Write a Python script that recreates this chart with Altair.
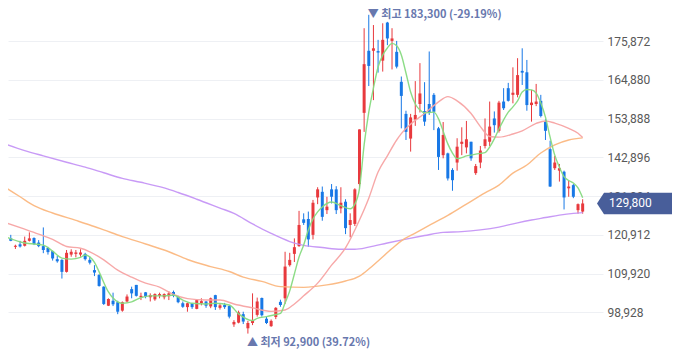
import altair as alt
import pandas as pd

# ---------------- candle data (daily OHLC, KRW) ----------------
open_ = [120100, 119900, 117500, 118200, 117800, 119200, 120000, 118700, 117700, 117200,
         116300, 114000, 113800, 110400, 115300, 115500, 115300, 115500, 113800, 110900,
         109500, 106200, 100800, 102200, 101800, 99400, 102000, 105500, 106700, 103200,
         104600, 103200, 102600, 103600, 103200, 103500, 104700, 103400, 101500, 100400,
         101500, 99900, 101500, 102000, 100600, 103800, 100200, 101000, 100700, 95500,
         96000, 98400, 94400, 95900, 98200, 103000, 97100, 95000, 97600, 101900,
         102900, 112300, 115500, 117700, 125300, 125400, 120900, 131500, 133100, 127900,
         133800, 133800, 128400, 130300, 123700, 124000, 135300, 155500, 173100, 173100,
         173000, 170300, 181100, 175900, 172800, 164300, 155200, 148200, 153600, 158000,
         156000, 158000, 160600, 151100, 143500, 144000, 139300, 141400, 146700, 145700,
         147300, 138400, 141400, 146100, 147300, 153900, 150400, 158700, 162500, 160600,
         160600, 167400, 167000, 157700, 158000, 158900, 153000, 145200, 139800, 139100,
         138800, 134100, 135000, 127900, 127500]
high = [120900, 120900, 118100, 119200, 120400, 121600, 120200, 119400, 123000, 117500,
        116400, 114900, 114000, 116600, 116800, 116600, 116800, 115800, 114700, 112300,
        109800, 106300, 102900, 104500, 102200, 102000, 104000, 106200, 106700, 104500,
        104700, 104300, 104300, 104500, 104300, 104900, 105100, 103600, 102000, 101700,
        101500, 102600, 102900, 102100, 103100, 103900, 101600, 101600, 101000, 96700,
        99400, 99100, 96500, 104300, 103100, 103100, 97600, 96900, 100400, 102500,
        116100, 115800, 119900, 127700, 127000, 127500, 130800, 134400, 134600, 131700,
        135300, 134700, 134400, 131000, 127000, 134100, 150800, 179500, 183300, 180400,
        176200, 180900, 181300, 179500, 175900, 165800, 156100, 155200, 164500, 169600,
        164200, 172900, 161100, 151500, 152900, 144200, 139800, 148300, 151400, 153200,
        147300, 141000, 146100, 153900, 158700, 155900, 158900, 162500, 164000, 168400,
        171000, 173800, 170500, 162000, 163700, 160600, 153700, 147600, 143300, 141000,
        139100, 136300, 135300, 129800, 131000]
low = [119400, 119100, 116900, 117300, 117600, 119000, 118000, 117400, 115700, 115300,
       113600, 113000, 108500, 110200, 114700, 114500, 114700, 113600, 112500, 109200,
       106200, 101000, 100700, 100700, 98400, 99100, 101700, 102900, 103400, 102400,
       102900, 102000, 102200, 102900, 102600, 102400, 103200, 101500, 100200, 99100,
       99900, 99800, 100900, 100200, 100100, 99600, 99700, 99900, 97200, 94800,
       95800, 95600, 92900, 95300, 97700, 97700, 95600, 94800, 97000, 100500,
       101300, 111900, 113200, 117500, 123700, 117500, 119600, 129600, 124900, 126800,
       129800, 126800, 127000, 121100, 120200, 123400, 134100, 150100, 163100, 159100,
       166900, 167200, 174700, 167800, 168100, 151100, 147800, 144500, 151800, 155600,
       151800, 154900, 150600, 139300, 142600, 136300, 133400, 139100, 143500, 144000,
       141900, 137900, 139800, 145400, 146100, 149900, 149900, 156300, 158700, 158200,
       159900, 163400, 156100, 153000, 157400, 154200, 147800, 134500, 139300, 136000,
       128100, 131700, 131300, 126900, 126900]
close = [119600, 119200, 117800, 117600, 119200, 119900, 118300, 117700, 116600, 116000,
         114200, 113400, 110400, 115800, 116100, 115900, 115900, 114000, 113000, 110200,
         106400, 101300, 102700, 101200, 99100, 101800, 103400, 104300, 103600, 103600,
         103400, 103800, 104100, 104100, 104100, 104300, 103600, 101800, 100500, 101500,
         100400, 102400, 102100, 100800, 102900, 100400, 100900, 100400, 97700, 96200,
         98900, 96300, 95900, 96500, 102000, 98100, 95900, 96500, 100200, 101000,
         111900, 113800, 117400, 123700, 124300, 119600, 130000, 133800, 126000, 128900,
         131700, 127900, 130000, 122800, 125100, 133800, 150800, 169300, 168800, 173800,
         172600, 176200, 176600, 176600, 168600, 160300, 150100, 154200, 154900, 161000,
         153000, 155500, 155800, 143000, 149200, 136900, 136400, 145900, 147300, 148000,
         142600, 140400, 144800, 148000, 151600, 152000, 158400, 156800, 158900, 161200,
         166200, 166900, 157700, 158400, 158700, 154600, 150400, 134600, 141400, 139800,
         131500, 134600, 131700, 129600, 129800]
day = list(range(len(close)))

# ---------------- moving averages ----------------
ma5_day = [0, 4, 8, 10, 12, 14, 16, 17, 19, 20, 22, 24, 25, 27, 29, 31, 34, 36, 38, 40, 43, 45, 48,
           50, 53, 54, 56, 58, 59, 60, 61, 62, 63, 64, 65, 66, 67, 68, 70, 72, 74, 75, 76, 77,
           78, 79, 80, 81, 82, 83, 84, 85, 86, 87, 88, 89, 90, 91, 92, 93, 94, 95, 96, 97, 98,
           99, 100, 101, 102, 103, 104, 105, 106, 107, 108, 109, 110, 111, 112, 113, 114, 115,
           116, 117, 118, 119, 120, 121, 122, 123, 124]
ma5_val = [120300, 118600, 118000, 116300, 114300, 114000, 114500, 115200, 113100, 110400,
           104700, 101900, 101500, 101900, 103100, 103600, 103600, 103800, 102400, 101500,
           101300, 101500, 101000, 98500, 96600, 97200, 97700, 98300, 98600, 101600,
           105000, 109800, 114600, 118000, 122300, 125400, 127400, 128800, 130200, 129200,
           128300, 129600, 134000, 146400, 155700, 162500, 168500, 171900, 173900, 175200,
           174500, 171900, 166800, 161400, 158000, 156300, 155500, 155600, 155700, 153800,
           150300, 146700, 144100, 142500, 142800, 143300, 143500, 143800, 144000, 144200,
           145800, 148100, 150900, 153500, 155700, 157200, 158900, 161400, 162100, 162000,
           161100, 158300, 154300, 148600, 143500, 140100, 137400, 136300, 135600, 134200,
           131400]
ma20_day = [0, 4, 7, 10, 13, 16, 18, 21, 24, 27, 30, 33, 36, 39, 43, 46, 49, 53, 57, 60, 62,
            64, 67, 70, 73, 76, 78, 80, 82, 84, 85, 87, 90, 93, 95, 97, 100, 102, 104, 106,
            109, 111, 114, 116, 118, 121, 123, 124]
ma20_val = [124300, 122500, 121100, 119600, 117600, 117100, 116100, 113800, 110900, 108900,
            107200, 106100, 104000, 102800, 102400, 102400, 101300, 100200, 99200, 99600,
            101300, 103600, 107200, 112300, 117200, 125100, 131300, 138700, 143300, 147800,
            149600, 152300, 155300, 158600, 160100, 158900, 155300, 151600, 148800, 148600,
            149500, 150400, 152500, 153200, 152600, 151100, 149700, 148500]
ma60_day = [0, 3, 6, 10, 15, 18, 21, 25, 30, 35, 39, 44, 48, 51, 55, 59, 64, 69, 73, 76, 78,
            80, 83, 85, 88, 92, 95, 99, 103, 106, 109, 112, 115, 118, 121, 124]
ma60_val = [134200, 131700, 129200, 127100, 125000, 123700, 122300, 120400, 118300, 116100,
            113900, 111900, 110500, 108900, 107700, 106200, 106000, 106700, 107800, 109200,
            111200, 113500, 117000, 119200, 121400, 124300, 126400, 129600, 132800, 135000,
            138400, 140700, 144100, 146400, 147800, 148400]
ma120_day = [0, 4, 8, 13, 17, 21, 25, 29, 34, 37, 41, 46, 49, 53, 57, 61, 64, 68, 72, 75, 78,
             82, 86, 90, 94, 98, 102, 106, 110, 113, 116, 119, 122, 124]
ma120_val = [146600, 144800, 143300, 141500, 140100, 138500, 136900, 135800, 134200, 132900,
             131000, 128500, 127000, 124000, 121300, 119000, 117900, 117300, 116800, 116800,
             117400, 118600, 119700, 120700, 121600, 121800, 122300, 123100, 124300, 125100,
             125800, 126500, 127000, 127200]

y_ticks = [98928, 109920, 120912, 131904, 142896, 153888, 164880, 175872]
ma_colors = {"MA5": "#86da80", "MA20": "#f7a3a3", "MA60": "#fbb77f", "MA120": "#c595f5"}
up_color, down_color = "#e8393d", "#1878e6"

# ---------------- tables ----------------
df = pd.DataFrame({"day": day, "open": open_, "high": high, "low": low, "close": close})
df["dir"] = ["up" if c >= o else "down" for o, c in zip(open_, close)]

ma_sets = {"MA5": (ma5_day, ma5_val), "MA20": (ma20_day, ma20_val),
           "MA60": (ma60_day, ma60_val), "MA120": (ma120_day, ma120_val)}

last = close[-1]
hi_i = max(range(len(high)), key=lambda k: high[k])
lo_i = min(range(len(low)), key=lambda k: low[k])
hi_df = pd.DataFrame({"day": [hi_i], "value": [high[hi_i]],
                      "label": [f"▼ 최고 {high[hi_i]:,} ({(last - high[hi_i]) / high[hi_i] * 100:.2f}%)"]})
lo_df = pd.DataFrame({"day": [lo_i], "value": [low[lo_i]],
                      "label": [f"▲ 최저 {low[lo_i]:,} ({(last - low[lo_i]) / low[lo_i] * 100:.2f}%)"]})
last_df = pd.DataFrame({"value": [last], "label": [f"{last:,}"]})

# ---------------- scales ----------------
x_scale = alt.Scale(domain=[1.48, 127.3], nice=False, zero=False)
y_scale = alt.Scale(domain=[88240, 185231], nice=False, zero=False)
y_axis = alt.Axis(orient="right", values=y_ticks, format=",d", title=None, domain=False,
                  ticks=False, grid=True, gridColor="#eef0f4", gridWidth=1,
                  labelFont="Roboto", labelFontSize=12, labelColor="#595959",
                  labelPadding=4)

def X(f="day"):
    return alt.X(f"{f}:Q", scale=x_scale, axis=None)

def Y(f):
    return alt.Y(f"{f}:Q", scale=y_scale, axis=y_axis)

col = alt.Color("dir:N", scale=alt.Scale(domain=["up", "down"], range=[up_color, down_color]),
                legend=None)

wick = alt.Chart(df).mark_rule(strokeWidth=1, clip=True).encode(
    x=X(), y=Y("low"), y2="high:Q", color=col)
body = alt.Chart(df).mark_bar(size=3, clip=True).encode(
    x=X(), y=Y("open"), y2="close:Q", color=col)

line_layers = []
for name in ["MA120", "MA60", "MA20", "MA5"]:
    ds, vs = ma_sets[name]
    mdf = pd.DataFrame({"day": ds, "value": vs})
    line_layers.append(
        alt.Chart(mdf).mark_line(strokeWidth=1.4, interpolate="monotone", clip=True,
                                 opacity=0.95, color=ma_colors[name]).encode(
            x=X(), y=Y("value")))

ann_color = "#6878ae"
hi_text = alt.Chart(hi_df).mark_text(align="left", baseline="middle", dx=-1, dy=0,
                                     font="Noto Sans CJK KR", fontSize=11, fontWeight="bold",
                                     color=ann_color).encode(
    x=X(), y=Y("value"), text="label:N")
lo_text = alt.Chart(lo_df).mark_text(align="left", baseline="middle", dx=-1, dy=9.5,
                                     font="Noto Sans CJK KR", fontSize=11, fontWeight="bold",
                                     color=ann_color).encode(
    x=X(), y=Y("value"), text="label:N")

tag_path = "M -1 0 L -0.831 -0.258 L 1 -0.258 L 1 0.258 L -0.831 0.258 Z"
tag = alt.Chart(last_df).mark_point(shape=tag_path, size=6889, filled=True, opacity=1,
                                    color="#485e9a", strokeWidth=0).encode(
    x=alt.value(630.5), y=Y("value"))
tag_text = alt.Chart(last_df).mark_text(align="left", baseline="middle", font="Roboto",
                                        fontSize=12, color="white").encode(
    x=alt.value(601), y=Y("value"), text="label:N")

chart = alt.layer(wick, body, *line_layers, hi_text, lo_text, tag, tag_text).properties(
    width=595, height=342,
    padding={"left": 0, "top": 0, "right": 69, "bottom": 0},
    autosize=alt.AutoSizeParams(type="none"),
    background="white",
).configure_view(stroke=None)

chart.save("out.html", embed_options={"renderer": "svg", "actions": False})
